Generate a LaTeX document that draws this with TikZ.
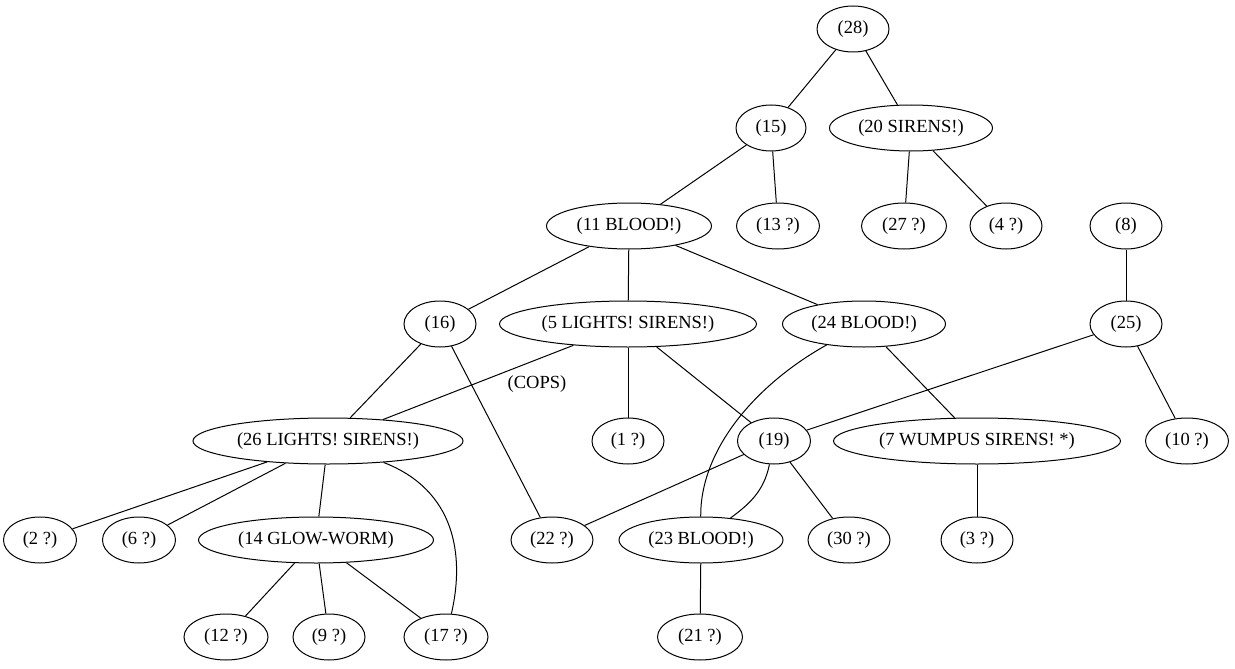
\documentclass[tikz,border=0pt]{standalone}
\usepackage{fontspec}
\setmainfont{Liberation Serif}
\usetikzlibrary{shapes.geometric}
\begin{document}
\begin{tikzpicture}[x=1pt,y=-1pt,
  every node/.style={font=\fontsize{18.5}{22}\selectfont},
  st/.style={draw, ellipse, line width=1pt, minimum height=46pt, inner sep=0pt},
  lbl/.style={inner sep=0pt},
  link/.style={line width=1pt}]
\useasboundingbox (0,0) rectangle (1235,669);

% rank 0
\node[st, minimum width=72pt]  (n28) at (853,29)  {(28)};
% rank 1
\node[st, minimum width=70pt]  (n15) at (771,128) {(15)};
\node[st, minimum width=163pt] (n20) at (911,128) {(20 SIRENS!)};
% rank 2
\node[st, minimum width=165pt] (n11) at (629,226) {(11 BLOOD!)};
\node[st, minimum width=83pt]  (n13) at (778,226) {(13 ?)};
\node[st, minimum width=85pt]  (n27) at (904,226) {(27 ?)};
\node[st, minimum width=72pt]  (n4)  at (1006,226) {(4 ?)};
\node[st, minimum width=72pt]  (n8)  at (1126,226) {(8)};
% rank 3
\node[st, minimum width=72pt]  (n16) at (440,324) {(16)};
\node[st, minimum width=257pt] (n5)  at (628,324) {(5 LIGHTS! SIRENS!)};
\node[st, minimum width=163pt] (n24) at (864,324) {(24 BLOOD!)};
\node[st, minimum width=72pt]  (n25) at (1126,324) {(25)};
% rank 4
\node[st, minimum width=270pt] (n26) at (328,441) {(26 LIGHTS! SIRENS!)};
\node[st, minimum width=72pt]  (n1)  at (628,441) {(1 ?)};
\node[st, minimum width=73pt]  (n19) at (774,441) {(19)};
\node[st, minimum width=287pt] (n7)  at (977,441) {(7 WUMPUS SIRENS! *)};
\node[st, minimum width=83pt]  (n10) at (1187,441) {(10 ?)};
% rank 5
\node[st, minimum width=73pt]  (n2)  at (40,540)  {(2 ?)};
\node[st, minimum width=73pt]  (n6)  at (139,540) {(6 ?)};
\node[st, minimum width=235pt] (n14) at (316,540) {(14 GLOW-WORM)};
\node[st, minimum width=82pt]  (n22) at (552,540) {(22 ?)};
\node[st, minimum width=164pt] (n23) at (701,540) {(23 BLOOD!)};
\node[st, minimum width=82pt]  (n30) at (849,540) {(30 ?)};
\node[st, minimum width=72pt]  (n3)  at (977,540) {(3 ?)};
% rank 6
\node[st, minimum width=84pt]  (n12) at (226,637) {(12 ?)};
\node[st, minimum width=72pt]  (n9)  at (329,637) {(9 ?)};
\node[st, minimum width=84pt]  (n17) at (446,637) {(17 ?)};
\node[st, minimum width=85pt]  (n21) at (700,637) {(21 ?)};

% edge label
\node[lbl] (lcops) at (537,384) {(COPS)};

% straight connectors
\draw[link] (n28) -- (n15);
\draw[link] (n28) -- (n20);
\draw[link] (n15) -- (n11);
\draw[link] (n15) -- (n13);
\draw[link] (n20) -- (n27);
\draw[link] (n20) -- (n4);
\draw[link] (n11) -- (n16);
\draw[link] (n11) -- (n5);
\draw[link] (n11) -- (n24);
\draw[link] (n8) -- (n25);
\draw[link] (n16) -- (n26);
\draw[link] (n16) -- (n22);
\draw[link] (n5) -- (n26);
\draw[link] (n5) -- (n1);
\draw[link] (n5) -- (n19);
\draw[link] (n24) -- (n7);
\draw[link] (n25) -- (n19);
\draw[link] (n25) -- (n10);
\draw[link] (n26) -- (n2);
\draw[link] (n26) -- (n6);
\draw[link] (n26) -- (n14);
\draw[link] (n19) -- (n22);
\draw[link] (n19) -- (n30);
\draw[link] (n7) -- (n3);
\draw[link] (n14) -- (n12);
\draw[link] (n14) -- (n9);
\draw[link] (n14) -- (n17);
\draw[link] (n23) -- (n21);

% curved connectors
\draw[link] (n24) .. controls (755,385) and (700,450) .. (n23);
\draw[link] (n19) .. controls (764,492) and (748,505) .. (n23);
\draw[link] (n26) .. controls (455,490) and (465,555) .. (n17);
\end{tikzpicture}
\end{document}
